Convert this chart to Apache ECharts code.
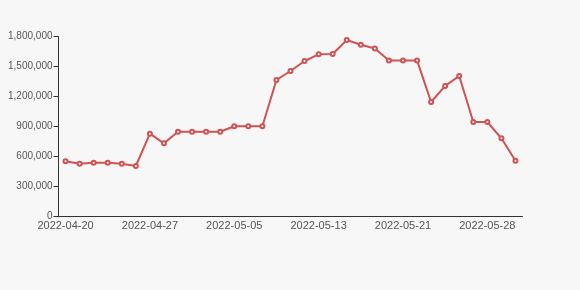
<!DOCTYPE html>
<html>
<head>
<meta charset="utf-8">
<script src="https://cdn.jsdelivr.net/npm/echarts@6/dist/echarts.min.js"></script>
<style>
html,body{margin:0;padding:0;background:#f7f7f7;}
#chart{width:580px;height:290px;}
</style>
</head>
<body>
<div id="chart"></div>
<script>
const categories = [
  '2022-04-20','2022-04-21','2022-04-22','2022-04-23','2022-04-25','2022-04-26',
  '2022-04-27','2022-04-28','2022-04-29','2022-05-01','2022-05-03','2022-05-04',
  '2022-05-05','2022-05-06','2022-05-08','2022-05-09','2022-05-10','2022-05-12',
  '2022-05-13','2022-05-14','2022-05-16','2022-05-17','2022-05-18','2022-05-20',
  '2022-05-21','2022-05-22','2022-05-24','2022-05-25','2022-05-26','2022-05-27',
  '2022-05-28','2022-05-29','2022-05-30'
];
const values = [
  554000, 530000, 540000, 540000, 530000, 507000,
  830000, 734000, 850000, 850000, 850000, 850000,
  905000, 905000, 905000, 1367000, 1457000, 1557000,
  1624000, 1627000, 1767000, 1720000, 1682000, 1563000,
  1563000, 1563000, 1147000, 1308000, 1407000, 947000,
  947000, 784000, 560000
];
const yTicks = { min: 0, max: 1800000, interval: 300000 };

const chart = echarts.init(document.getElementById('chart'), null, {renderer: 'canvas'});
chart.setOption({
  backgroundColor: '#f7f7f7',
  animation: false,
  grid: { left: 58.5, right: 57.5, top: 36.7, bottom: 73.3, containLabel: false, outerBoundsMode: 'none' },
  xAxis: {
    type: 'category',
    data: categories,
    boundaryGap: true,
    axisLine: { lineStyle: { color: '#333' } },
    axisTick: { interval: 5, lineStyle: { color: '#333' } },
    axisLabel: { interval: 5, color: '#555', fontSize: 11, margin: 4, fontFamily: 'Liberation Sans, Arial, sans-serif' },
    splitLine: { show: false }
  },
  yAxis: {
    type: 'value',
    min: yTicks.min,
    max: yTicks.max,
    interval: yTicks.interval,
    axisLine: { show: true, lineStyle: { color: '#333' } },
    axisTick: { show: true, lineStyle: { color: '#333' } },
    axisLabel: { color: '#555', fontSize: 10, margin: 6, fontFamily: 'Liberation Sans, Arial, sans-serif' },
    splitLine: { show: false }
  },
  series: [{
    type: 'line',
    data: values,
    symbol: 'emptyCircle',
    symbolSize: 4,
    showAllSymbol: true,
    lineStyle: { color: '#d05252', width: 2 },
    itemStyle: { color: '#d05252', borderWidth: 1 }
  }]
});
</script>
</body>
</html>
